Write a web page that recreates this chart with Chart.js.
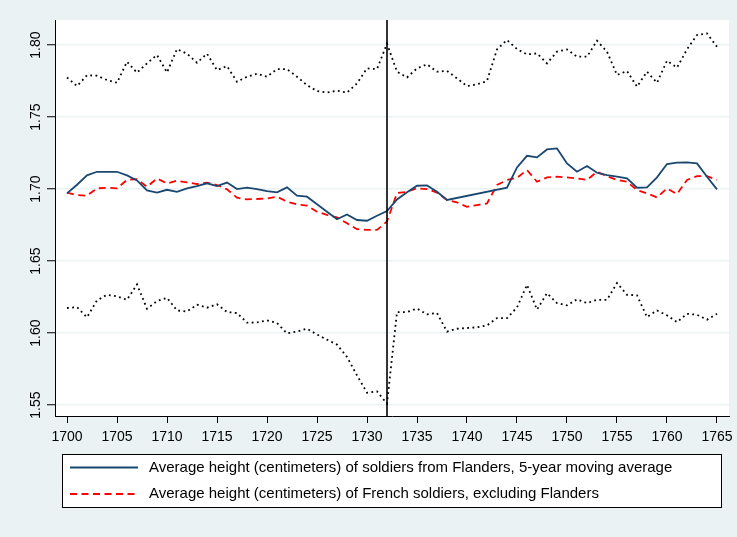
<!DOCTYPE html>
<html>
<head>
<meta charset="utf-8">
<script src="https://cdn.jsdelivr.net/npm/chart.js@4.4.1/dist/chart.umd.min.js"></script>
<style>
  html, body { margin: 0; padding: 0; background: #eaf2f3; }
  #wrap { width: 737px; height: 537px; position: relative; }
</style>
</head>
<body>
<div id="wrap"><canvas id="heights" width="737" height="537"></canvas></div>
<script>
// years on the x axis
const years = [
  1700, 1701, 1702, 1703, 1704, 1705, 1706, 1707, 1708, 1709,
  1710, 1711, 1712, 1713, 1714, 1715, 1716, 1717, 1718, 1719,
  1720, 1721, 1722, 1723, 1724, 1725, 1726, 1727, 1728, 1729,
  1730, 1731, 1732, 1733, 1734, 1735, 1736, 1737, 1738, 1739,
  1740, 1741, 1742, 1743, 1744, 1745, 1746, 1747, 1748, 1749,
  1750, 1751, 1752, 1753, 1754, 1755, 1756, 1757, 1758, 1759,
  1760, 1761, 1762, 1763, 1764, 1765
];

// Flanders, 5-year moving average (no observations 1739-1743)
const flanders = [
  1.697, 1.703, 1.7095, 1.712, 1.712, 1.712, 1.7095, 1.706, 1.699, 1.6975,
  1.6995, 1.698, 1.7005, 1.702, 1.704, 1.702, 1.7045, 1.700, 1.701, 1.700,
  1.6985, 1.6977, 1.7012, 1.6954, 1.6947, 1.6894, 1.6843, 1.679, 1.6824, 1.6785,
  1.678, 1.6815, 1.6847, 1.6928, 1.6977, 1.7023, 1.7025, 1.6981, 1.6924, null,
  null, null, null, null, 1.701, 1.715, 1.7231, 1.722, 1.7275, 1.7282,
  1.7178, 1.712, 1.716, 1.7113, 1.7097, 1.7086, 1.7074, 1.7009, 1.7012, 1.7081,
  1.7174, 1.7183, 1.7185, 1.7178, 1.7086, 1.6998
];

// French soldiers, Flanders excluded
const french = [
  1.6975, 1.6958, 1.6954, 1.7005, 1.7009, 1.7005, 1.7063, 1.7069, 1.7016, 1.7074,
  1.7039, 1.7058, 1.7046, 1.7035, 1.7044, 1.7028, 1.6998, 1.694, 1.6928, 1.6931,
  1.6935, 1.6947, 1.6912, 1.6894, 1.6885, 1.6843, 1.682, 1.6804, 1.6762, 1.6721,
  1.6716, 1.6716, 1.6775, 1.6972, 1.6981, 1.7005, 1.700, 1.6975, 1.6924, 1.6907,
  1.6877, 1.6889, 1.690, 1.7028, 1.7063, 1.7078, 1.7132, 1.7051, 1.7081, 1.7086,
  1.7081, 1.7074, 1.7063, 1.712, 1.709, 1.7063, 1.7051, 1.6993, 1.697, 1.6942,
  1.7005, 1.6965, 1.7063, 1.709, 1.709, 1.7063
];

// confidence band around the Flanders series
const upperBand = [
  1.7775, 1.7715, 1.779, 1.7787, 1.7757, 1.7738, 1.7884, 1.7808, 1.7873, 1.7931,
  1.781, 1.7972, 1.794, 1.7877, 1.794, 1.7826, 1.7854, 1.7745, 1.778, 1.780,
  1.778, 1.7833, 1.7833, 1.778, 1.7722, 1.768, 1.767, 1.7683, 1.767, 1.7734,
  1.7838, 1.7833, 1.801, 1.7815, 1.7775, 1.7838, 1.7866, 1.7815, 1.782, 1.7769,
  1.7715, 1.7727, 1.775, 1.797, 1.8035, 1.7972, 1.7935, 1.7942, 1.7873, 1.7954,
  1.797, 1.7919, 1.7919, 1.803, 1.7954, 1.7792, 1.782, 1.7711, 1.7815, 1.7738,
  1.7891, 1.7843, 1.797, 1.807, 1.8081, 1.7988
];
const lowerBand = [
  1.6174, 1.618, 1.611, 1.6227, 1.6266, 1.6255, 1.6231, 1.6338, 1.6169, 1.6222,
  1.6245, 1.6157, 1.615, 1.6197, 1.6176, 1.620, 1.6146, 1.6139, 1.6072, 1.6074,
  1.6088, 1.607, 1.5998, 1.601, 1.603, 1.599, 1.5954, 1.592, 1.5834, 1.5706,
  1.5586, 1.5595, 1.551, 1.6146, 1.6146, 1.617, 1.613, 1.6139, 1.601, 1.603,
  1.6035, 1.604, 1.6053, 1.6104, 1.6104, 1.6178, 1.6335, 1.6163, 1.6277, 1.6208,
  1.6192, 1.6234, 1.6208, 1.6231, 1.6231, 1.6347, 1.6266, 1.6262, 1.6111, 1.6157,
  1.6123, 1.6076, 1.6134, 1.6127, 1.6093, 1.6134
];

const xTicks = [1700, 1705, 1710, 1715, 1720, 1725, 1730, 1735, 1740, 1745, 1750, 1755, 1760, 1765];
const yTicks = [1.55, 1.60, 1.65, 1.70, 1.75, 1.80];
const breakYear = 1732;

const NAVY = '#1a476f';
const RED = '#ff0000';
const BG = '#eaf2f3';
const FONT = "'Liberation Sans', Arial, sans-serif";

function pts(vals) {
  return years.map((y, i) => ({ x: y, y: vals[i] }));
}

// white plot region, rotated y labels, the 1732 marker and the boxed legend
const stataLook = {
  id: 'stataLook',
  beforeDraw(chart) {
    const { ctx, chartArea: a } = chart;
    ctx.save();
    ctx.fillStyle = BG;
    ctx.fillRect(0, 0, chart.width, chart.height);
    ctx.fillStyle = '#ffffff';
    ctx.fillRect(a.left, a.top, a.right - a.left, a.bottom - a.top);
    ctx.restore();
  },
  afterDatasetsDraw(chart) {
    const { ctx, chartArea: a, scales } = chart;
    const x = scales.x.getPixelForValue(breakYear);
    ctx.save();
    ctx.strokeStyle = '#000';
    ctx.lineWidth = 1.6;
    ctx.beginPath();
    ctx.moveTo(x, a.top);
    ctx.lineTo(x, a.bottom);
    ctx.stroke();
    ctx.restore();
  },
  afterDraw(chart) {
    const { ctx, scales } = chart;
    ctx.save();
    // y tick labels, turned to read upwards
    ctx.fillStyle = '#000';
    ctx.font = '14px ' + FONT;
    ctx.textAlign = 'center';
    ctx.textBaseline = 'middle';
    yTicks.forEach(v => {
      const y = scales.y.getPixelForValue(v);
      ctx.save();
      ctx.translate(36, y);
      ctx.rotate(-Math.PI / 2);
      ctx.fillText(v.toFixed(2), 0, 0);
      ctx.restore();
    });

    // legend
    const box = { left: 62, top: 454, right: 722, bottom: 508 };
    ctx.fillStyle = '#fff';
    ctx.fillRect(box.left, box.top, box.right - box.left, box.bottom - box.top);
    ctx.strokeStyle = '#000';
    ctx.lineWidth = 1;
    ctx.strokeRect(box.left + 0.5, box.top + 0.5, box.right - box.left - 1, box.bottom - box.top - 1);
    const rows = [0, 1].map(i => chart.data.datasets[i]);
    rows.forEach((ds, i) => {
      const y = 467.5 + i * 26.5;
      ctx.strokeStyle = ds.borderColor;
      ctx.lineWidth = ds.borderWidth;
      ctx.setLineDash(ds.borderDash || []);
      ctx.beginPath();
      ctx.moveTo(70, y);
      ctx.lineTo(138, y);
      ctx.stroke();
      ctx.setLineDash([]);
      ctx.fillStyle = '#000';
      ctx.textAlign = 'left';
      ctx.font = '15px ' + FONT;
      ctx.fillText(ds.label, 149, y);
    });
    ctx.restore();
  }
};

new Chart(document.getElementById('heights'), {
  type: 'line',
  data: {
    datasets: [
      {
        label: 'Average height (centimeters) of soldiers from Flanders, 5-year moving average',
        data: pts(flanders),
        borderColor: NAVY,
        borderWidth: 1.8,
        spanGaps: true,
        order: 1
      },
      {
        label: 'Average height (centimeters) of French soldiers, excluding Flanders',
        data: pts(french),
        borderColor: RED,
        borderWidth: 1.8,
        borderDash: [7, 4.5],
        order: 2
      },
      {
        label: 'upper',
        data: pts(upperBand),
        borderColor: '#000',
        borderWidth: 1.8,
        borderDash: [1.8, 3.4],
        order: 3
      },
      {
        label: 'lower',
        data: pts(lowerBand),
        borderColor: '#000',
        borderWidth: 1.8,
        borderDash: [1.8, 3.4],
        order: 3
      }
    ]
  },
  options: {
    responsive: false,
    animation: false,
    devicePixelRatio: 1,
    layout: { padding: { left: 0, top: 20, right: 8, bottom: 81 } },
    elements: {
      point: { radius: 0, hoverRadius: 0 },
      line: { tension: 0, fill: false, borderCapStyle: 'butt' }
    },
    plugins: {
      legend: { display: false },
      tooltip: { enabled: false }
    },
    scales: {
      x: {
        type: 'linear',
        min: 1698.8,
        max: 1766.2,
        afterBuildTicks: s => { s.ticks = xTicks.map(v => ({ value: v })); },
        afterFit: s => { s.height = 40; s.paddingLeft = 0; s.paddingRight = 0; },
        border: { color: '#000', width: 1 },
        grid: { drawOnChartArea: false, drawTicks: true, tickLength: 7, tickColor: '#000', tickWidth: 1 },
        ticks: {
          color: '#000',
          font: { family: FONT, size: 14 },
          padding: 6,
          maxRotation: 0,
          autoSkip: false,
          callback: v => String(v)
        }
      },
      y: {
        type: 'linear',
        min: 1.5424,
        max: 1.8174,
        afterBuildTicks: s => { s.ticks = yTicks.map(v => ({ value: v })); },
        afterFit: s => { s.width = 55; s.paddingTop = 0; s.paddingBottom = 0; },
        border: { color: '#000', width: 1 },
        grid: { color: BG, lineWidth: 1.5, tickLength: 8, tickColor: '#000', tickWidth: 1 },
        ticks: { color: 'rgba(0,0,0,0)', font: { family: FONT, size: 14 } }
      }
    }
  },
  plugins: [stataLook]
});
</script>
</body>
</html>
